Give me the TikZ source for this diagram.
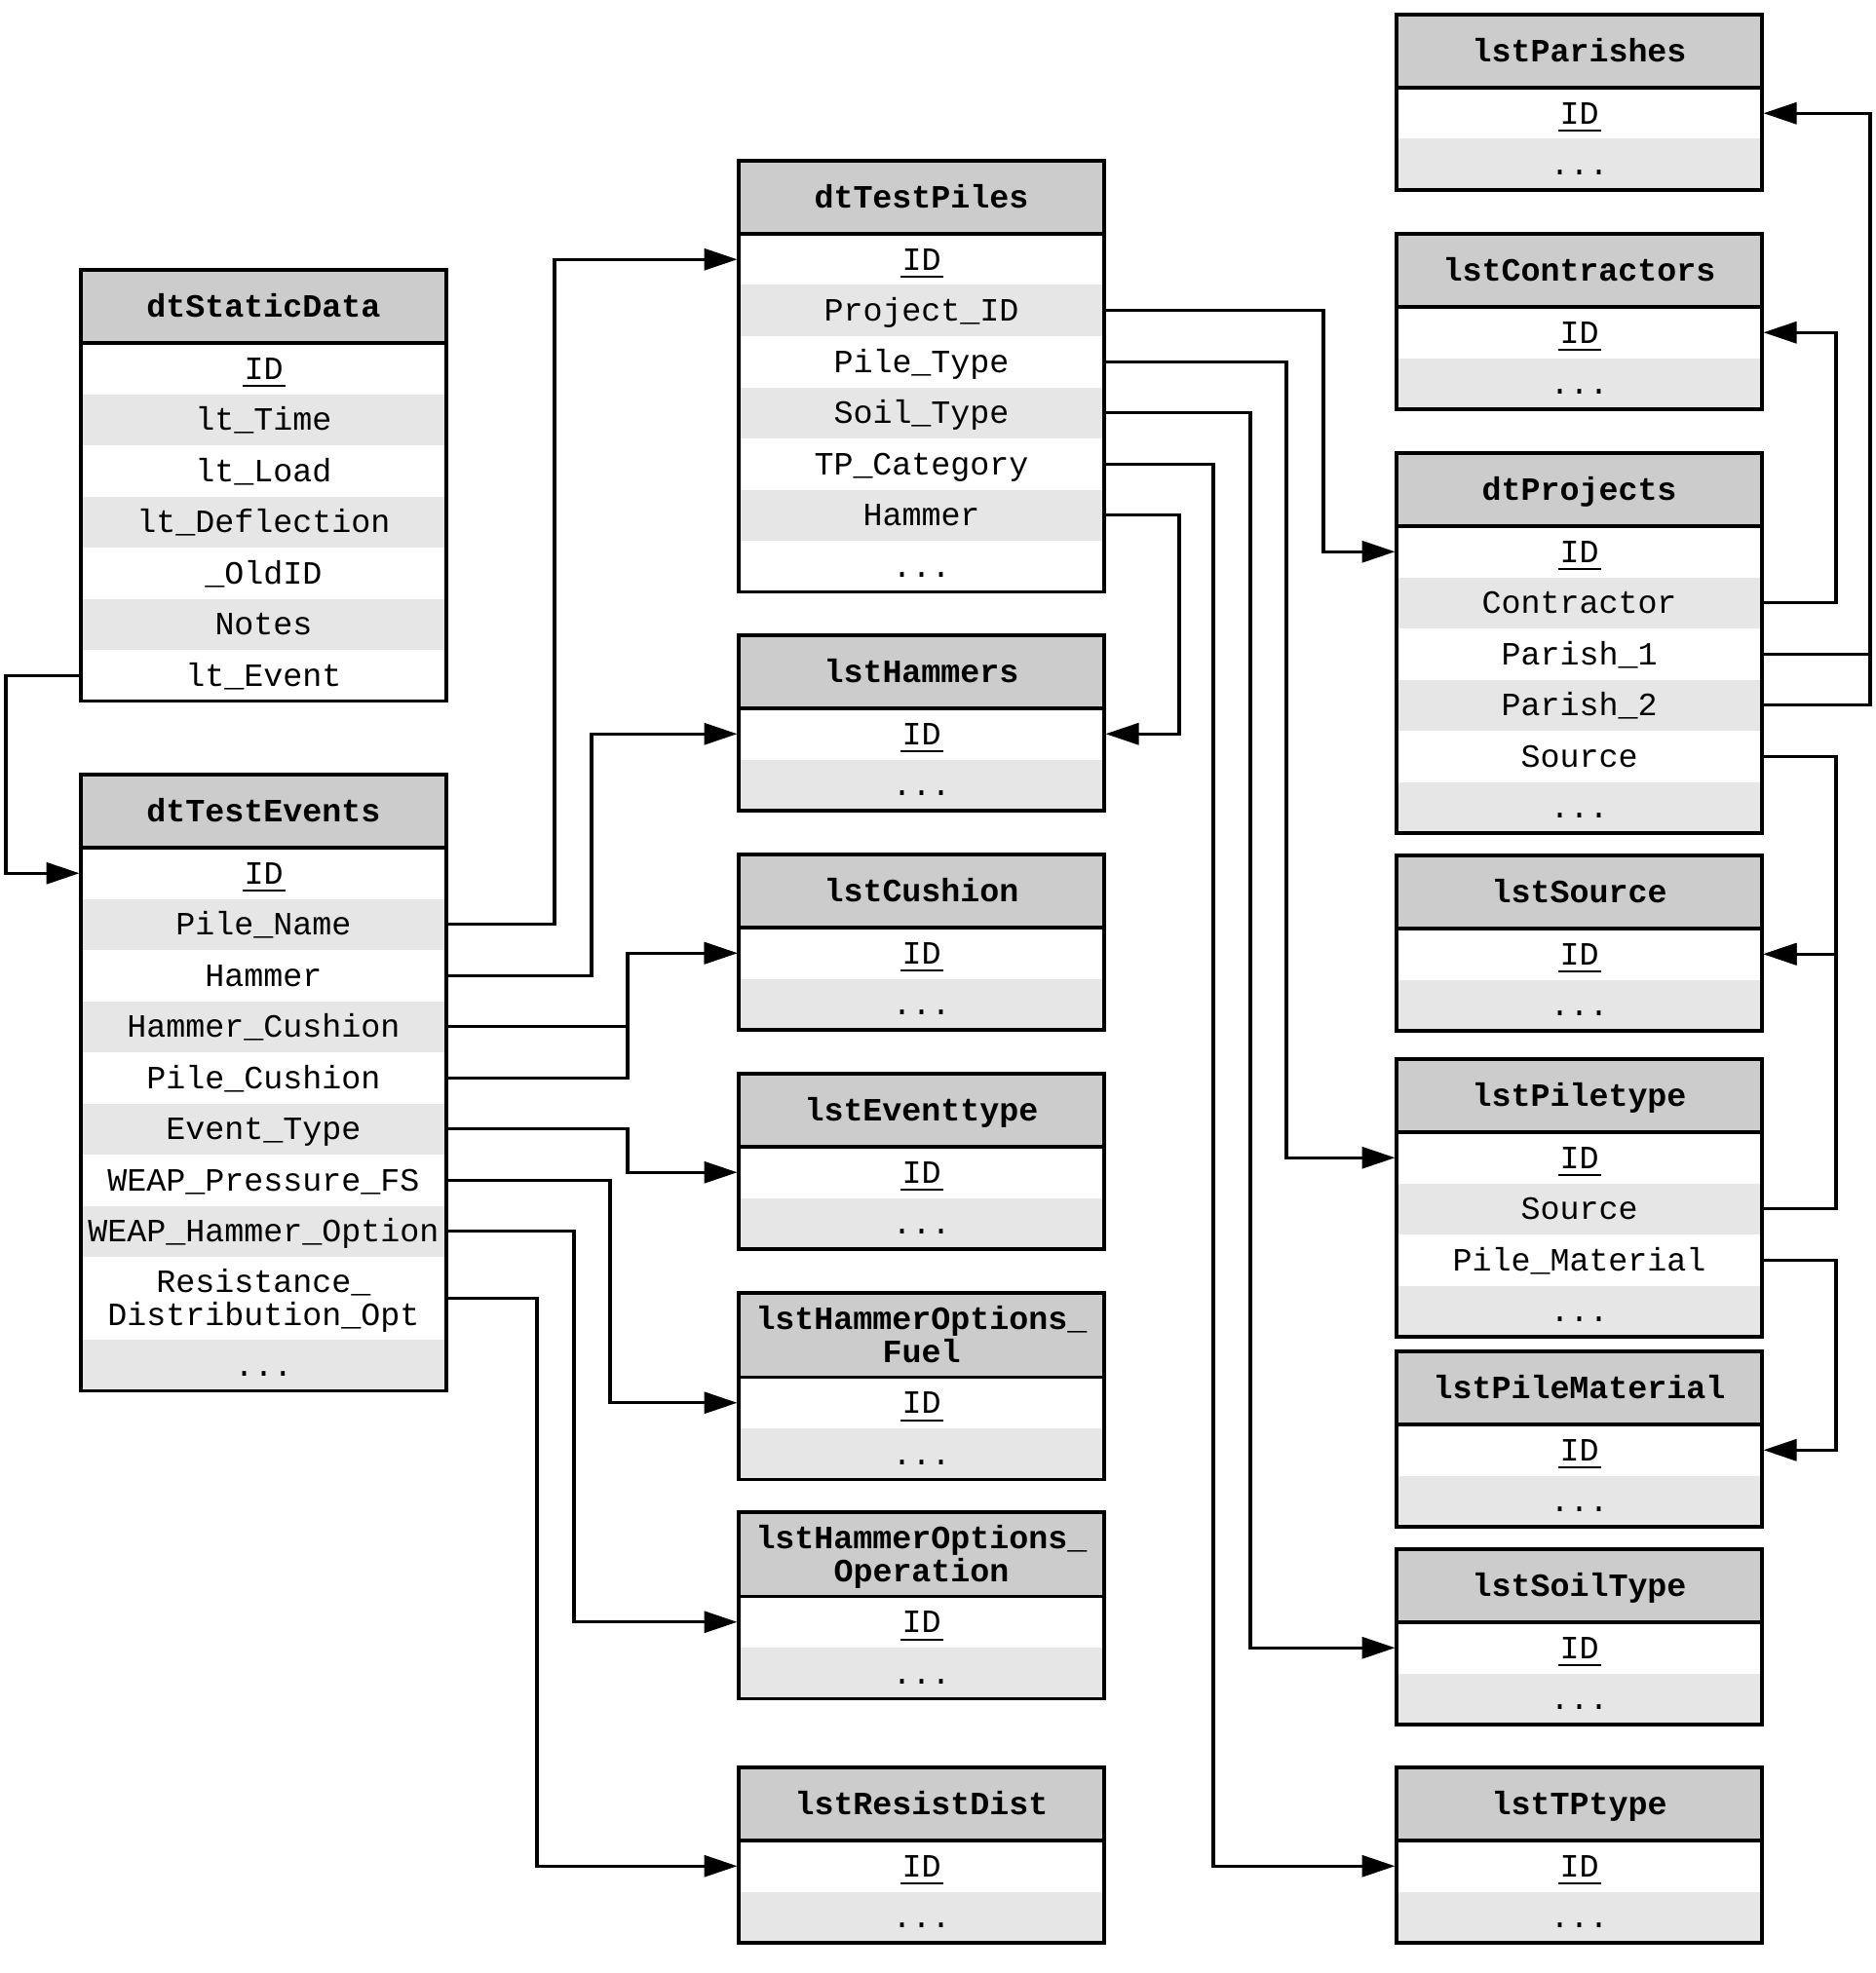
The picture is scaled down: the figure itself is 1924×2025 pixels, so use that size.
\documentclass[tikz,border=0pt]{standalone}
\usepackage{fontspec}
\usetikzlibrary{arrows.meta}
\newfontfamily\lmono{Liberation Mono}
\newcommand\tblfont{\lmono\fontsize{33.33pt}{34pt}\selectfont}
\newcommand\tblbold{\lmono\bfseries\fontsize{33.33pt}{34pt}\selectfont}
\newcommand\pk{\rlap{\hspace{-2pt}\rule[-8pt]{44pt}{1.8pt}}ID}
\definecolor{hdrgray}{RGB}{204,204,204}
\definecolor{rowgray}{RGB}{230,230,230}
\tikzset{
  every node/.style={inner sep=0pt, outer sep=0pt},
  hdrbox/.style={minimum width=375pt, fill=hdrgray},
  rowbox/.style={minimum width=375pt, minimum height=52.5pt},
  hdrtxt/.style={font=\tblbold, anchor=base},
  fldtxt/.style={font=\tblfont, anchor=base},
  border/.style={line width=3.3pt, draw=black},
  wire/.style={line width=3.3pt},
  conn/.style={wire, -{Triangle[length=34pt,width=22pt]}, shorten >=1.5pt}
}
% header, single line: name, x, y, text
\newcommand\hd[4]{\node[hdrbox,minimum height=75pt,anchor=north] (#1) at (#2,#3) {};
  \node[hdrtxt] (#1-t) at ([yshift=-11pt]#1.center) {#4};}
% header, two lines
\newcommand\hdd[5]{\node[hdrbox,minimum height=86.5pt,anchor=north] (#1) at (#2,#3) {};
  \node[hdrtxt] (#1-t1) at ([yshift=6pt]#1.center) {#4};
  \node[hdrtxt] (#1-t2) at ([yshift=-28pt]#1.center) {#5};}
% row: name, previous, fill, text
\newcommand\rw[4]{\node[rowbox,fill=#3,anchor=north] (#1) at (#2.south) {};
  \node[fldtxt] (#1-t) at ([yshift=-11pt]#1.center) {#4};}
% two-line row
\newcommand\rww[5]{\node[rowbox,minimum height=85pt,fill=#3,anchor=north] (#1) at (#2.south) {};
  \node[fldtxt] (#1-t1) at ([yshift=6pt]#1.center) {#4};
  \node[fldtxt] (#1-t2) at ([yshift=-28pt]#1.center) {#5};}
\newcommand\tblframe[2]{\draw[border] (#1.north west) rectangle (#2.south east);
  \draw[border] (#1.south west) -- (#1.south east);}
% small lookup table: name, x, y, title
\newcommand\lk[4]{\hd{#1}{#2}{#3}{#4}
  \rw{#1-id}{#1}{white}{\pk}
  \rw{#1-dt}{#1-id}{rowgray}{...}
  \tblframe{#1}{#1-dt}}
\newcommand\lkk[5]{\hdd{#1}{#2}{#3}{#4}{#5}
  \rw{#1-id}{#1}{white}{\pk}
  \rw{#1-dt}{#1-id}{rowgray}{...}
  \tblframe{#1}{#1-dt}}
\begin{document}
\begin{tikzpicture}[x=1pt,y=-1pt]
\useasboundingbox (0,0) rectangle (1924,2025);
% ---------- column 1
\hd{sd}{270.5}{277}{dtStaticData}
\rw{sd-id}{sd}{white}{\pk}
\rw{sd-tm}{sd-id}{rowgray}{lt\_Time}
\rw{sd-ld}{sd-tm}{white}{lt\_Load}
\rw{sd-df}{sd-ld}{rowgray}{lt\_Deflection}
\rw{sd-od}{sd-df}{white}{\_OldID}
\rw{sd-nt}{sd-od}{rowgray}{Notes}
\rw{sd-ev}{sd-nt}{white}{lt\_Event}
\tblframe{sd}{sd-ev}

\hd{te}{270.5}{795}{dtTestEvents}
\rw{te-id}{te}{white}{\pk}
\rw{te-pn}{te-id}{rowgray}{Pile\_Name}
\rw{te-hm}{te-pn}{white}{Hammer}
\rw{te-hc}{te-hm}{rowgray}{Hammer\_Cushion}
\rw{te-pc}{te-hc}{white}{Pile\_Cushion}
\rw{te-et}{te-pc}{rowgray}{Event\_Type}
\rw{te-wp}{te-et}{white}{WEAP\_Pressure\_FS}
\rw{te-wh}{te-wp}{rowgray}{WEAP\_Hammer\_Option}
\rww{te-rs}{te-wh}{white}{Resistance\_}{Distribution\_Opt}
\rw{te-dt}{te-rs}{rowgray}{...}
\tblframe{te}{te-dt}

% ---------- column 2
\hd{tp}{945.5}{165}{dtTestPiles}
\rw{tp-id}{tp}{white}{\pk}
\rw{tp-pj}{tp-id}{rowgray}{Project\_ID}
\rw{tp-pt}{tp-pj}{white}{Pile\_Type}
\rw{tp-st}{tp-pt}{rowgray}{Soil\_Type}
\rw{tp-tc}{tp-st}{white}{TP\_Category}
\rw{tp-hm}{tp-tc}{rowgray}{Hammer}
\rw{tp-dt}{tp-hm}{white}{...}
\tblframe{tp}{tp-dt}

\lk{hm}{945.5}{652}{lstHammers}
\lk{cu}{945.5}{877}{lstCushion}
\lk{et}{945.5}{1102}{lstEventtype}
\lkk{hf}{945.5}{1327}{lstHammerOptions\_}{Fuel}
\lkk{ho}{945.5}{1552}{lstHammerOptions\_}{Operation}
\lk{rd}{945.5}{1814}{lstResistDist}

% ---------- column 3
\lk{pa}{1620.5}{15}{lstParishes}
\lk{co}{1620.5}{240}{lstContractors}

\hd{pr}{1620.5}{465}{dtProjects}
\rw{pr-id}{pr}{white}{\pk}
\rw{pr-co}{pr-id}{rowgray}{Contractor}
\rw{pr-p1}{pr-co}{white}{Parish\_1}
\rw{pr-p2}{pr-p1}{rowgray}{Parish\_2}
\rw{pr-so}{pr-p2}{white}{Source}
\rw{pr-dt}{pr-so}{rowgray}{...}
\tblframe{pr}{pr-dt}

\lk{so}{1620.5}{878}{lstSource}

\hd{pt}{1620.5}{1087}{lstPiletype}
\rw{pt-id}{pt}{white}{\pk}
\rw{pt-so}{pt-id}{rowgray}{Source}
\rw{pt-pm}{pt-so}{white}{Pile\_Material}
\rw{pt-dt}{pt-pm}{rowgray}{...}
\tblframe{pt}{pt-dt}

\lk{pm}{1620.5}{1387}{lstPileMaterial}
\lk{st}{1620.5}{1590}{lstSoilType}
\lk{tt}{1620.5}{1814}{lstTPtype}

% ---------- routing channels
\coordinate (k0) at (6,0);
\coordinate (k1) at (569,0);
\coordinate (k2) at (607,0);
\coordinate (k3) at (644,0);
\coordinate (k4) at (626,0);
\coordinate (k5) at (589,0);
\coordinate (k6) at (551,0);
\coordinate (k7) at (1358,0);
\coordinate (k8) at (1320,0);
\coordinate (k9) at (1283,0);
\coordinate (k10) at (1245,0);
\coordinate (k11) at (1210,0);
\coordinate (k12) at (1884,0);
\coordinate (k13) at (1919,0);

% ---------- connectors
\draw[conn] (sd-ev.west) -- (sd-ev.west -| k0) |- (te-id.west);

\draw[conn] (te-pn.east) -- (te-pn.east -| k1) |- (tp-id.west);
\draw[conn] (te-hm.east) -- (te-hm.east -| k2) |- (hm-id.west);
\draw[conn] (te-hc.east) -- (te-hc.east -| k3) |- (cu-id.west);
\draw[conn] (te-pc.east) -- (te-pc.east -| k3) |- (cu-id.west);
\draw[conn] (te-et.east) -- (te-et.east -| k3) |- (et-id.west);
\draw[conn] (te-wp.east) -- (te-wp.east -| k4) |- (hf-id.west);
\draw[conn] (te-wh.east) -- (te-wh.east -| k5) |- (ho-id.west);
\draw[conn] (te-rs.east) -- (te-rs.east -| k6) |- (rd-id.west);

\draw[conn] (tp-pj.east) -- (tp-pj.east -| k7) |- (pr-id.west);
\draw[conn] (tp-pt.east) -- (tp-pt.east -| k8) |- (pt-id.west);
\draw[conn] (tp-st.east) -- (tp-st.east -| k9) |- (st-id.west);
\draw[conn] (tp-tc.east) -- (tp-tc.east -| k10) |- (tt-id.west);
\draw[conn] (tp-hm.east) -- (tp-hm.east -| k11) |- (hm-id.east);

\draw[conn] (pr-co.east) -- (pr-co.east -| k12) |- (co-id.east);
\draw[wire] (pr-p1.east) -- (pr-p1.east -| k13);
\draw[conn] (pr-p2.east) -- (pr-p2.east -| k13) |- (pa-id.east);
\draw[conn] (pr-so.east) -- (pr-so.east -| k12) |- (so-id.east);
\draw[conn] (pt-so.east) -- (pt-so.east -| k12) |- (so-id.east);
\draw[conn] (pt-pm.east) -- (pt-pm.east -| k12) |- (pm-id.east);
\end{tikzpicture}
\end{document}
